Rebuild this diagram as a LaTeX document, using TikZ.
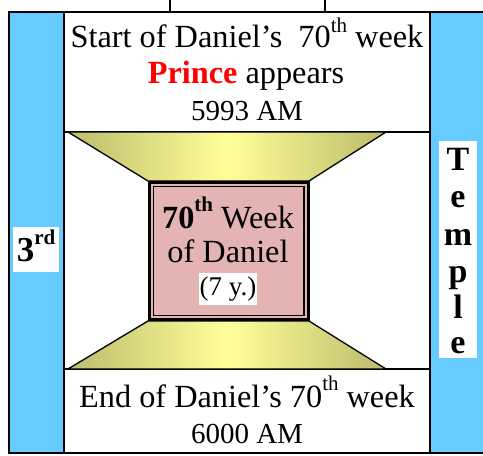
\documentclass[tikz,border=0pt]{standalone}
\usepackage{fontspec}
\setmainfont{Liberation Serif}
\definecolor{skyb}{RGB}{102,204,255}
\definecolor{yelC}{RGB}{255,255,153}
\definecolor{yelE}{RGB}{188,188,108}
\definecolor{pinkb}{RGB}{228,180,180}
\definecolor{redp}{RGB}{255,0,0}
\newcommand\supth[2]{\raisebox{#1}{\fontsize{21}{21}\selectfont #2}}
\begin{document}
\begin{tikzpicture}[x=1pt,y=-1pt,
  txt/.style={inner sep=0pt, anchor=base, font=\fontsize{32.3}{35}\selectfont},
  datetxt/.style={inner sep=0pt, anchor=base, font=\fontsize{29}{31}\selectfont},
  bold/.style={inner sep=0pt, anchor=base, font=\fontsize{34}{36}\selectfont\bfseries},
  frame/.style={draw=black, line width=2pt},
  trap/.style={draw=black, line width=1.3pt, left color=yelE, right color=yelE, middle color=yelC}]
\useasboundingbox (0,0) rectangle (483,456);
\clip (0,0) rectangle (483,456);
% outer blue band
\path[frame, fill=skyb] (9,12) rectangle (500,453);
% top stub
\path[frame, fill=white] (170,-10) rectangle (325,12);
% white column
\path[frame, fill=white] (64,12) rectangle (430,453);
\draw[line width=2pt] (64,132) -- (430,132);
\draw[line width=2pt] (64,369) -- (430,369);
% trapezoids
\path[trap] (68,132) -- (386,132) -- (309,181) -- (148,181) -- cycle;
\path[trap] (148,321) -- (309,321) -- (386,369) -- (68,369) -- cycle;
% centre box
\path[draw=black, line width=3pt, fill=pinkb] (149.5,182.5) rectangle (308.5,319.5);
\draw[line width=1.6pt] (153.5,186.5) rectangle (304,315.5);
% top texts
\node[txt] (l1) at (247,47) {Start of Daniel’s\ \ 70\supth{15pt}{th}\ week};
\node[txt] (l2) at (246,83) {\textbf{\textcolor{redp}{Prince}} appears};
\node[datetxt] (l3) at (247,120) {5993 AM};
% bottom texts
\node[txt] (b1) at (247,407) {End of Daniel’s 70\supth{17pt}{th}\ week};
\node[datetxt] (b2) at (247,443) {6000 AM};
% centre texts
\node[txt] (c1) at (228,228) {\textbf{70\supth{17pt}{th}}\ Week};
\node[txt] (c2) at (228,262) {of Daniel};
\node[fill=white, inner sep=0pt, minimum width=58pt, minimum height=32pt,
      font=\fontsize{27}{29}\selectfont] (c3) at (228,289) {(7 y.)};
% 3rd
\node[fill=white, inner sep=0pt, minimum width=46pt, minimum height=45pt] (thirdbox) at (36,249.5) {};
\node[bold, font=\fontsize{35}{36}\selectfont\bfseries] (third) at (36,261) {3\supth{17pt}{rd}};
% Temple
\node[fill=white, inner sep=0pt, minimum width=38pt, minimum height=217pt] (tbox) at (458,249.5) {};
\node[bold] (t1) at (458,170) {T};
\node[bold] (t2) at (458,207) {e};
\node[bold] (t3) at (458,245) {m};
\node[bold] (t4) at (458,282) {p};
\node[bold] (t5) at (458,318) {l};
\node[bold] (t6) at (458,353) {e};
\end{tikzpicture}
\end{document}
